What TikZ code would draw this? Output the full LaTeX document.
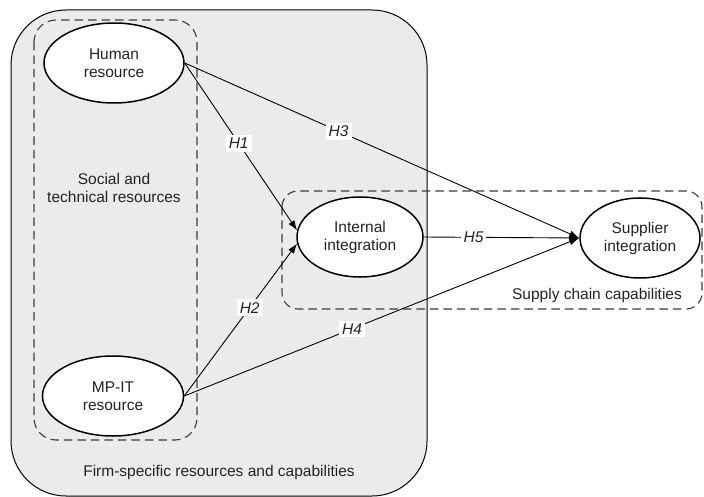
\documentclass[tikz,border=0pt]{standalone}
\usepackage{fontspec}
\setmainfont{Liberation Sans}
\usetikzlibrary{arrows.meta,shapes.geometric}
\definecolor{panel}{RGB}{235,235,237}
\definecolor{dashgray}{RGB}{60,60,60}
\definecolor{inkgray}{RGB}{35,35,35}
\begin{document}
\begin{tikzpicture}[x=1pt,y=-1pt,
  txt/.style={font=\fontsize{15.5}{18}\selectfont,align=center,text=inkgray},
  construct/.style={txt,draw=black,line width=1.5pt,ellipse,fill=white,inner sep=0pt,minimum height=80pt},
  groupbox/.style={draw=dashgray,line width=1.1pt,dash pattern=on 8.5pt off 5pt},
  link/.style={line width=0.9pt,-{Latex[length=10pt,width=7pt]}},
  hyp/.style={txt,font=\fontsize{15.5}{18}\selectfont\itshape,fill=white,inner sep=3pt}
]
\useasboundingbox (0,0) rectangle (704,497);
% outer panel
\draw[fill=panel,line width=1pt,rounded corners=55pt] (11,10) rectangle (427,496);
% dashed groups
\draw[groupbox,rounded corners=22pt] (34,20) rectangle (197,440);
\draw[groupbox,rounded corners=16pt] (282,191) rectangle (702,309);
% constructs
\node[construct,minimum width=140pt] (hr) at (114,63) {Human\\resource};
\node[construct,minimum width=141pt] (mp) at (113,396) {MP-IT\\resource};
\node[construct,minimum width=126pt] (ii) at (360,237) {Internal\\integration};
\node[construct,minimum width=120pt] (si) at (640,238) {Supplier\\integration};
% group labels
\node[txt] (st) at (114,188) {Social and\\technical resources};
\node[txt] (fs) at (219,472) {Firm-specific resources and capabilities};
\node[txt] (sc) at (597,295) {Supply chain capabilities};
% hypotheses
\draw[link] (hr.east) -- node[hyp,pos=0.48] (h1) {H1} (ii.174);
\draw[link] (hr.east) -- node[hyp,pos=0.39] (h3) {H3} (si.west);
\draw[link] (mp.east) -- node[hyp,pos=0.58] (h2) {H2} (ii.186);
\draw[link] (mp.east) -- node[hyp,pos=0.425] (h4) {H4} (si.west);
\draw[link] (ii.east) -- node[hyp,pos=0.32] (h5) {H5} (si.west);
\end{tikzpicture}
\end{document}
